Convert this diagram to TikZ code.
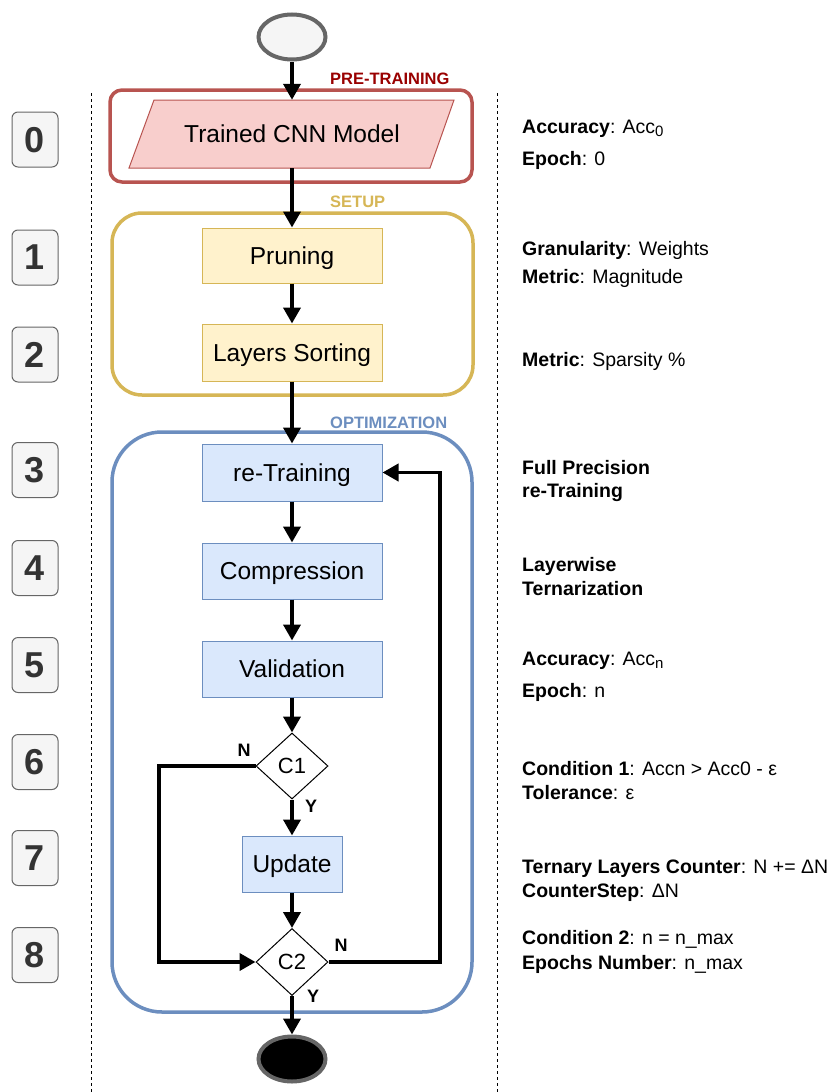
\documentclass[tikz,border=0pt]{standalone}
\usepackage{fontspec}
\setmainfont{Liberation Sans}
\usetikzlibrary{shapes.geometric,arrows.meta}
\definecolor{preC}{HTML}{B85450}
\definecolor{preF}{HTML}{F8CECC}
\definecolor{preT}{HTML}{990000}
\definecolor{setC}{HTML}{D6B656}
\definecolor{setF}{HTML}{FFF2CC}
\definecolor{optC}{HTML}{6C8EBF}
\definecolor{optF}{HTML}{DAE8FC}
\definecolor{grayS}{HTML}{666666}
\definecolor{grayF}{HTML}{F5F5F5}
\definecolor{grayT}{HTML}{333333}
\newcommand{\mysub}[1]{\raisebox{-0.35ex}{\fontsize{15}{15}\selectfont #1}}
\begin{document}
\begin{tikzpicture}[x=1pt,y=-1pt,
  arr/.style={line width=3.8pt,-{Triangle[width=17pt,length=16pt]}},
  container/.style={line width=3.5pt,fill=white},
  grouplabel/.style={anchor=west,inner sep=0,font=\bfseries\fontsize{16.5}{18}\selectfont},
  procbox/.style={draw=optC,fill=optF,line width=1pt,inner sep=0,minimum width=180pt,minimum height=57pt,text depth=0pt,font=\fontsize{24.5}{28}\selectfont},
  setbox/.style={procbox,draw=setC,fill=setF},
  decision/.style={diamond,draw=black,fill=white,line width=1pt,inner sep=0,minimum width=72pt,minimum height=66pt,text depth=0pt,font=\fontsize{22}{24}\selectfont},
  terminal/.style={ellipse,draw=grayS,line width=4pt,minimum width=67pt,minimum height=45pt,inner sep=0},
  numbox/.style={draw=grayS,fill=grayF,rounded corners=6pt,line width=1pt,minimum width=46pt,minimum height=55pt,inner sep=0,text=grayT,text depth=0pt,font=\bfseries\fontsize{36}{36}\selectfont},
  info/.style={anchor=base west,inner sep=0,font=\fontsize{19.5}{22}\selectfont},
  yn/.style={inner sep=0,font=\bfseries\fontsize{18}{18}\selectfont},
  sep/.style={line width=1pt,dash pattern=on 3pt off 3pt}
]
\useasboundingbox (0,0) rectangle (837,1092);

% separators
\draw[sep] (91,93) -- (91,1092);
\draw[sep] (497,93) -- (497,1092);

% containers
\draw[container,draw=preC,rounded corners=12pt] (110,90) rectangle (472,182);
\draw[container,draw=setC,rounded corners=30pt] (112,213) rectangle (473,395);
\draw[container,draw=optC,rounded corners=50pt] (112,432) rectangle (472,1012);
\node[grouplabel,text=preT] (lpre) at (330,79) {PRE-TRAINING};
\node[grouplabel,text=setC] (lset) at (330,202) {SETUP};
\node[grouplabel,text=optC] (lopt) at (330,423) {OPTIMIZATION};

% flow
\node[terminal,fill=grayF] (start) at (292,37) {};
\draw[draw=preC,fill=preF,line width=1pt] (129,168) -- (154,100) -- (454,100) -- (430,168) -- cycle;
\node[inner sep=0,minimum height=68pt,text depth=0pt,font=\fontsize{24.5}{28}\selectfont] (model) at (292,134) {Trained CNN Model};
\node[setbox,minimum height=55pt] (prune) at (292,255.5) {Pruning};
\node[setbox] (sort) at (292,352.5) {Layers Sorting};
\node[procbox] (retrain) at (292,472.5) {re-Training};
\node[procbox,minimum height=56pt] (compress) at (292,571) {Compression};
\node[procbox,minimum height=56pt] (valid) at (292,669) {Validation};
\node[decision] (c1) at (292,766) {C1};
\node[procbox,minimum width=100pt,minimum height=56pt] (update) at (292,864) {Update};
\node[decision,minimum height=67pt] (c2) at (292,962) {C2};
\node[terminal,fill=black] (stop) at (292,1059) {};

\coordinate (loopL) at (159,766);
\coordinate (loopR) at (440,962);

\draw[arr] (start) -- (model.north);
\draw[arr] (model.south) -- (prune.north);
\draw[arr] (prune) -- (sort);
\draw[arr] (sort) -- (retrain);
\draw[arr] (retrain) -- (compress);
\draw[arr] (compress) -- (valid);
\draw[arr] (valid) -- (c1);
\draw[arr] (c1) -- (update);
\draw[arr] (update) -- (c2);
\draw[arr] (c2) -- (stop);
\draw[arr] (c1.west) -- (loopL) |- (c2.west);
\draw[arr] (c2.east) -- (loopR) |- (retrain.east);

\node[yn] (n1) at (244,750) {N};
\node[yn] (y1) at (311,806) {Y};
\node[yn] (n2) at (341,945) {N};
\node[yn] (y2) at (313,996) {Y};

% row numbers
\node[numbox] (r0) at (35,139.5) {0};
\node[numbox] (r1) at (35,257.5) {1};
\node[numbox] (r2) at (35,354.5) {2};
\node[numbox] (r3) at (35,470) {3};
\node[numbox] (r4) at (35,568) {4};
\node[numbox] (r5) at (35,665) {5};
\node[numbox] (r6) at (35,762) {6};
\node[numbox] (r7) at (35,858) {7};
\node[numbox] (r8) at (35,955) {8};

% info texts
\node[info] (i0a) at (522,133) {\textbf{Accuracy}: Acc\mysub{0}};
\node[info] (i0b) at (522,165) {\textbf{Epoch}: 0};
\node[info] (i1a) at (522,255) {\textbf{Granularity}: Weights};
\node[info] (i1b) at (522,283) {\textbf{Metric}: Magnitude};
\node[info] (i2a) at (522,366) {\textbf{Metric}: Sparsity \%};
\node[info] (i3a) at (522,474) {\textbf{Full Precision}};
\node[info] (i3b) at (522,497) {\textbf{re-Training}};
\node[info] (i4a) at (522,571) {\textbf{Layerwise}};
\node[info] (i4b) at (522,595) {\textbf{Ternarization}};
\node[info] (i5a) at (522,665) {\textbf{Accuracy}: Acc\mysub{n}};
\node[info] (i5b) at (522,697) {\textbf{Epoch}: n};
\node[info] (i6a) at (522,775) {\textbf{Condition 1}: Accn > Acc0 - ε};
\node[info] (i6b) at (522,799) {\textbf{Tolerance}: ε};
\node[info] (i7a) at (522,873) {\textbf{Ternary Layers Counter}: N += ΔN};
\node[info] (i7b) at (522,897) {\textbf{CounterStep}: ΔN};
\node[info] (i8a) at (522,944) {\textbf{Condition 2}: n = n\_max};
\node[info] (i8b) at (522,969) {\textbf{Epochs Number}: n\_max};
\end{tikzpicture}
\end{document}
